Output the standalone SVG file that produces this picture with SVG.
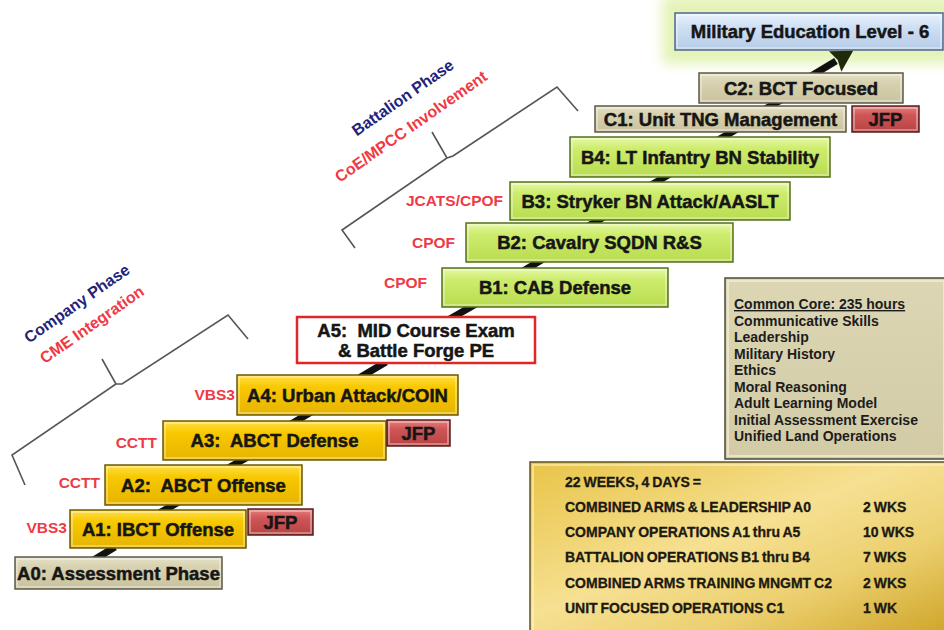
<svg xmlns="http://www.w3.org/2000/svg" width="944" height="630" viewBox="0 0 944 630">
<defs>
<linearGradient id="gY" x1="0" y1="0" x2="0" y2="1"><stop offset="0" stop-color="#ffe04a"/><stop offset="0.3" stop-color="#f8c800"/><stop offset="1" stop-color="#e6b400"/></linearGradient>
<linearGradient id="gG" x1="0" y1="0" x2="0" y2="1"><stop offset="0" stop-color="#e6f8a8"/><stop offset="0.3" stop-color="#cdec6c"/><stop offset="1" stop-color="#b8dc50"/></linearGradient>
<linearGradient id="gT" x1="0" y1="0" x2="0" y2="1"><stop offset="0" stop-color="#e6e2c8"/><stop offset="0.3" stop-color="#d8d2b0"/><stop offset="1" stop-color="#c8c29e"/></linearGradient>
<linearGradient id="gR" x1="0" y1="0" x2="0" y2="1"><stop offset="0" stop-color="#e88080"/><stop offset="0.35" stop-color="#cf5656"/><stop offset="1" stop-color="#b84242"/></linearGradient>
<linearGradient id="gB" x1="0" y1="0" x2="0" y2="1"><stop offset="0" stop-color="#eaf2fc"/><stop offset="0.4" stop-color="#cddff3"/><stop offset="1" stop-color="#b6cbe6"/></linearGradient>
<linearGradient id="gGold" x1="0" y1="0" x2="1" y2="1"><stop offset="0" stop-color="#e8c448"/><stop offset="0.45" stop-color="#f6e092"/><stop offset="0.7" stop-color="#ecd070"/><stop offset="1" stop-color="#cfa428"/></linearGradient>
<linearGradient id="gCC" x1="0" y1="0" x2="0" y2="1"><stop offset="0" stop-color="#dcd6b4"/><stop offset="1" stop-color="#d2cba6"/></linearGradient>
<filter id="blur" x="-20%" y="-50%" width="140%" height="200%"><feGaussianBlur stdDeviation="6"/></filter>
<marker id="arr" markerUnits="userSpaceOnUse" markerWidth="28" markerHeight="28" refX="1" refY="12" orient="auto"><path d="M0,0 L21,12 L0,24 L3,12 Z" fill="#1f2a0c"/></marker>
<style>
.lbl{font-family:"Liberation Sans",Arial,sans-serif;font-weight:bold;font-size:18.5px;fill:#161616;stroke:#161616;stroke-width:0.5px;text-anchor:middle;white-space:pre}
.tool{font-family:"Liberation Sans",Arial,sans-serif;font-weight:bold;font-size:15.5px;fill:#ee3a44;text-anchor:end}
.ph{font-family:"Liberation Sans",Arial,sans-serif;font-weight:bold;font-size:16px;text-anchor:middle}
.navy{fill:#22237a}
.red{fill:#ee3a44}
.yel{fill:url(#gY);stroke:#6e5a00;stroke-width:1.5}
.grn{fill:url(#gG);stroke:#56701c;stroke-width:1.5}
.tan{fill:url(#gT);stroke:#5e5a46;stroke-width:1.5}
.jfp{fill:url(#gR);stroke:#5a1c1c;stroke-width:1.5}
.bev{fill:none;stroke:#ffffff;stroke-opacity:0.45;stroke-width:1.5}
.con{stroke:#111;stroke-width:7;fill:none}
.brk{stroke:#555;stroke-width:1.6;fill:none}
.cc{font-family:"Liberation Sans",Arial,sans-serif;font-weight:bold;font-size:14px;fill:#1c1c1c}
.wk{font-family:"Liberation Sans",Arial,sans-serif;font-weight:bold;font-size:14px;fill:#1c1a10;stroke:#1c1a10;stroke-width:0.3px;word-spacing:-1px}
</style>
</defs>
<rect width="944" height="630" fill="#ffffff"/>

<!-- brackets and phase labels -->
<g id="company-phase">
<path class="brk" d="M25,485 L12,455 L116,384 L102,359 M116,384 L122,384 L228,315 L248,339"/>
<text class="ph navy" transform="translate(80,308) rotate(-35)">Company Phase</text>
<text class="ph red" transform="translate(95,329) rotate(-35)">CME Integration</text>
</g>
<g id="battalion-phase">
<path class="brk" d="M355,248 L342,230 L447,158 L432,132 M447,158 L453,156 L557,87 L578,111"/>
<text class="ph navy" transform="translate(406,102) rotate(-35)">Battalion Phase</text>
<text class="ph red" transform="translate(414,131) rotate(-35)">CoE/MPCC Involvement</text>
</g>

<!-- goal -->
<g id="mel">
<rect x="662" y="-4" width="300" height="68" rx="6" fill="#e4f3b8" filter="url(#blur)"/>
<rect x="675" y="13" width="268" height="37" fill="url(#gB)" stroke="#4e6890" stroke-width="1.5"/>
<rect class="bev" x="677" y="15" width="264" height="33"/>
<text class="lbl" x="810" y="38">Military Education Level - 6</text>
</g>

<!-- connectors -->
<g id="connectors">
<line class="con" x1="92" y1="561" x2="115" y2="547"/>
<line class="con" x1="159" y1="513" x2="179" y2="502"/>
<line class="con" x1="228" y1="468" x2="248" y2="457"/>
<line class="con" x1="291" y1="424" x2="313" y2="411"/>
<line class="con" x1="359" y1="378" x2="386" y2="362"/>
<line class="con" x1="448" y1="320" x2="476" y2="304"/>
<line class="con" x1="523" y1="271" x2="545" y2="258"/>
<line class="con" x1="588" y1="226" x2="606" y2="216"/>
<line class="con" x1="651" y1="185" x2="670" y2="174"/>
<line class="con" x1="718" y1="140" x2="739" y2="128"/>
<line class="con" x1="765" y1="109" x2="783" y2="99"/>
<line class="con" x1="811" y1="76" x2="836" y2="61" marker-end="url(#arr)"/>
</g>

<g id="c2"><rect class="tan" x="699" y="73" width="204" height="30"/><rect class="bev" x="701" y="75" width="200" height="26"/><text class="lbl" x="801" y="94.5">C2: BCT Focused</text></g>
<g id="c1"><rect class="tan" x="595" y="106" width="251" height="26"/><rect class="bev" x="597" y="108" width="247" height="22"/><text class="lbl" x="720.5" y="125.5">C1: Unit TNG Management</text></g>
<g id="jfp-c1"><rect class="jfp" x="852" y="106" width="67" height="26"/><rect class="bev" x="854" y="108" width="63" height="22"/><text class="lbl" x="885.5" y="125.5">JFP</text></g>
<g id="b4"><rect class="grn" x="570" y="137" width="260" height="40"/><rect class="bev" x="572" y="139" width="256" height="36"/><text class="lbl" x="700" y="163.5">B4: LT Infantry BN Stability</text></g>
<g id="b3"><rect class="grn" x="510" y="182" width="280" height="38"/><rect class="bev" x="512" y="184" width="276" height="34"/><text class="lbl" x="650" y="207.5">B3: Stryker BN Attack/AASLT</text><text class="tool" x="503" y="206">JCATS/CPOF</text></g>
<g id="b2"><rect class="grn" x="466" y="223" width="267" height="39"/><rect class="bev" x="468" y="225" width="263" height="35"/><text class="lbl" x="599.5" y="249">B2: Cavalry SQDN R&amp;S</text><text class="tool" x="455" y="248">CPOF</text></g>
<g id="b1"><rect class="grn" x="442" y="268" width="226" height="39"/><rect class="bev" x="444" y="270" width="222" height="35"/><text class="lbl" x="555" y="294">B1: CAB Defense</text><text class="tool" x="427" y="288">CPOF</text></g>
<g id="a5"><rect x="297" y="317" width="238" height="46" fill="#ffffff" stroke="#e02626" stroke-width="2.5"/><text class="lbl" x="416" y="336.5">A5:  MID Course Exam</text><text class="lbl" x="416" y="356.5">&amp; Battle Forge PE</text></g>
<g id="a4"><rect class="yel" x="237" y="375" width="221" height="40"/><rect class="bev" x="239" y="377" width="217" height="36"/><text class="lbl" x="347.5" y="401.5">A4: Urban Attack/COIN</text><text class="tool" x="235" y="400">VBS3</text></g>
<g id="a3"><rect class="yel" x="163" y="421" width="223" height="39"/><rect class="bev" x="165" y="423" width="219" height="35"/><text class="lbl" x="274.5" y="447">A3:  ABCT Defense</text><text class="tool" x="157" y="448">CCTT</text></g>
<g id="jfp-a3"><rect class="jfp" x="387" y="420" width="63" height="26"/><rect class="bev" x="389" y="422" width="59" height="22"/><text class="lbl" x="418.5" y="439.5">JFP</text></g>
<g id="a2"><rect class="yel" x="105" y="465" width="197" height="40"/><rect class="bev" x="107" y="467" width="193" height="36"/><text class="lbl" x="203.5" y="491.5">A2:  ABCT Offense</text><text class="tool" x="100" y="488">CCTT</text></g>
<g id="a1"><rect class="yel" x="70" y="510" width="176" height="38"/><rect class="bev" x="72" y="512" width="172" height="34"/><text class="lbl" x="158" y="535.5">A1: IBCT Offense</text><text class="tool" x="67" y="533">VBS3</text></g>
<g id="jfp-a1"><rect class="jfp" x="248" y="509" width="65" height="26"/><rect class="bev" x="250" y="511" width="61" height="22"/><text class="lbl" x="280.5" y="528.5">JFP</text></g>
<g id="a0"><rect class="tan" x="15" y="557" width="207" height="32"/><rect class="bev" x="17" y="559" width="203" height="28"/><text class="lbl" x="118.5" y="580">A0: Assessment Phase</text></g>

<!-- common core -->
<g id="common-core">
<rect x="725" y="278" width="222" height="181" fill="url(#gCC)" stroke="#4c483a" stroke-width="1.5"/>
<rect x="728" y="281" width="216" height="175" fill="none" stroke="#f2eed8" stroke-opacity="0.7" stroke-width="2"/>
<text class="cc" x="734" y="309" text-decoration="underline">Common Core: 235 hours</text>
<text class="cc" x="734" y="325.5">Communicative Skills</text>
<text class="cc" x="734" y="342">Leadership</text>
<text class="cc" x="734" y="358.5">Military History</text>
<text class="cc" x="734" y="375">Ethics</text>
<text class="cc" x="734" y="391.5">Moral Reasoning</text>
<text class="cc" x="734" y="408">Adult Learning Model</text>
<text class="cc" x="734" y="424.5">Initial Assessment Exercise</text>
<text class="cc" x="734" y="441">Unified Land Operations</text>
</g>

<!-- weeks summary -->
<g id="weeks">
<rect x="530" y="462" width="420" height="172" fill="url(#gGold)" stroke="#5c5228" stroke-width="1.5"/>
<rect x="533" y="465" width="414" height="166" fill="none" stroke="#fff4c0" stroke-opacity="0.6" stroke-width="2"/>
<text class="wk" x="565" y="487">22 WEEKS, 4 DAYS =</text>
<text class="wk" x="565" y="512">COMBINED ARMS &amp; LEADERSHIP A0</text>
<text class="wk" x="565" y="537">COMPANY OPERATIONS A1 thru A5</text>
<text class="wk" x="565" y="562">BATTALION OPERATIONS B1 thru B4</text>
<text class="wk" x="565" y="588">COMBINED ARMS  TRAINING MNGMT C2</text>
<text class="wk" x="565" y="613">UNIT FOCUSED OPERATIONS C1</text>
<text class="wk" x="863" y="512">2 WKS</text>
<text class="wk" x="863" y="537">10 WKS</text>
<text class="wk" x="863" y="562">7 WKS</text>
<text class="wk" x="863" y="588">2 WKS</text>
<text class="wk" x="863" y="613">1 WK</text>
</g>
</svg>
